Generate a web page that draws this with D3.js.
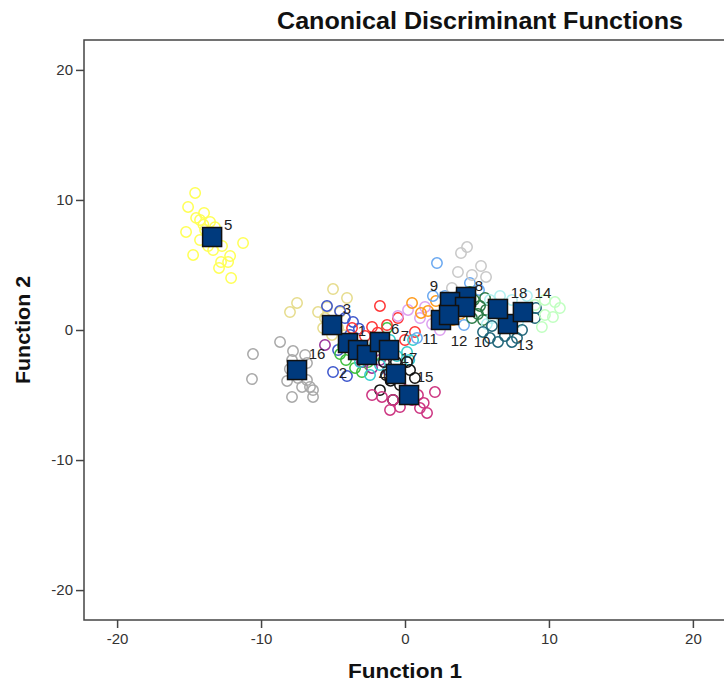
<!DOCTYPE html>
<html>
<head>
<meta charset="utf-8">
<script src="https://cdn.jsdelivr.net/npm/d3@7"></script>
<style>
  html, body { margin: 0; padding: 0; background: #fff; }
  svg { display: block; }
</style>
</head>
<body>
<div id="chart"></div>
<script>
// ---- data ----
const groups = ["1","2","3","4","5","6","7","8","9","10","11","12","13","14","15","16","17","18"];
const groupColors = ["#3cbf3c","#3c55cc","#e6dc8c","#993399","#ffff55","#ff3333","#33cccc","#c8c8c8","#6aa8f0","#2a7a45","#ff9a1a","#dda0f0","#1e6478","#c0ffc0","#cc3380","#a8a8a8","#111111","#b0f0f0"];
const centroidX = [-3.96,-3.26,-5.07,-2.64,-13.4,-1.74,-1.11,4.24,3.13,4.17,2.5,3.06,7.15,8.19,0.28,-7.5,-0.63,6.46];
const centroidY = [-1.0,-1.54,0.38,-1.92,7.15,-0.92,-1.54,2.54,2.15,1.77,0.77,1.15,0.46,1.38,-5.0,-3.08,-3.38,1.62];
const labelX = [-2.99,-4.31,-4.03,-1.53,-12.29,-0.69,0.0,5.14,2.01,5.35,1.74,3.75,8.33,9.58,1.39,-6.11,0.28,7.92];
const labelY = [0.0,-3.23,1.62,-3.46,8.15,0.15,-0.46,3.46,3.46,-0.85,-0.62,-0.77,-1.08,2.85,-3.54,-1.77,-2.08,2.92];

// individual cases: [group, function1, function2]
const cases = [
  // group 5
  [5,-14.58,10.54],[5,-15.07,9.46],[5,-14.51,8.62],[5,-13.96,9.0],[5,-14.24,8.46],[5,-15.21,7.54],[5,-14.24,6.92],[5,-13.89,7.69],[5,-13.54,8.31],[5,-14.72,5.77],[5,-13.33,6.15],[5,-12.78,5.23],[5,-12.29,5.23],[5,-12.15,5.69],[5,-11.25,6.69],[5,-12.08,4.0],[5,-12.92,4.77],[5,-12.71,6.46],[5,-13.68,6.46],[5,-14.0,8.1],[5,-13.2,7.9],
  // group 16
  [16,-10.56,-1.85],[16,-10.63,-3.77],[16,-8.68,-0.92],[16,-7.78,-1.62],[16,-6.94,-1.92],[16,-7.85,-2.31],[16,-7.43,-3.69],[16,-8.19,-3.92],[16,-7.15,-4.38],[16,-6.6,-4.38],[16,-6.39,-4.62],[16,-7.85,-5.15],[16,-6.39,-5.15],[16,-6.81,-3.85],[16,-6.81,-2.54],[16,-8.0,-3.0],
  // group 3
  [3,-7.99,1.38],[3,-7.5,2.08],[3,-5.0,3.15],[3,-4.03,2.46],[3,-5.42,1.77],[3,-5.07,-0.38],[3,-5.56,0.92],[3,-5.69,0.15],[3,-4.51,1.38],[3,-6.04,1.38],[3,-4.65,0.15],[3,-4.2,-0.4],
  // group 2
  [2,-5.42,1.85],[2,-4.51,1.46],[2,-3.61,0.62],[2,-4.17,0.92],[2,-5.0,-3.23],[2,-4.03,-3.54],[2,-4.65,-1.54],[2,-3.82,-0.38],[2,-3.2,0.1],
  // group 1
  [1,-4.51,-1.85],[1,-4.1,-2.31],[1,-3.47,-2.92],[1,-2.99,-3.23],[1,-2.57,-2.46],[1,-3.68,-1.38],[1,-2.08,-1.92],[1,-1.25,0.15],[1,-4.3,-1.2],
  // group 6
  [6,-1.74,1.85],[6,-3.68,0.15],[6,-2.29,0.23],[6,-1.25,0.38],[6,0.69,-0.15],[6,-0.49,0.92],[6,-2.78,-0.46],[6,0.0,-0.77],[6,-1.9,-0.2],
  // group 4
  [4,-5.56,-1.15],[4,-2.99,-2.46],[4,-2.29,-2.92],[4,-1.74,-2.31],[4,-3.33,-1.69],[4,-1.18,-3.08],
  // group 7
  [7,-2.43,-3.46],[7,-1.74,-2.69],[7,-1.04,-0.77],[7,-0.56,-2.0],[7,0.14,-1.69],[7,0.56,-0.77],[7,-3.13,-2.46],[7,-1.39,-1.69],[7,-2.08,-1.15],[7,0.3,-2.3],
  // group 17
  [17,-1.74,-4.62],[17,-1.32,-3.46],[17,-0.63,-2.46],[17,0.14,-2.46],[17,0.69,-3.69],[17,-0.83,-5.38],[17,-0.35,-4.23],[17,0.35,-3.08],[17,-1.46,-2.46],[17,-1.0,-3.9],
  // group 15
  [15,-1.6,-5.15],[15,-0.83,-5.38],[15,-1.04,-6.15],[15,-0.35,-5.92],[15,0.49,-5.38],[15,1.04,-6.0],[15,1.53,-6.38],[15,2.08,-4.77],[15,0.0,-4.62],[15,0.9,-5.0],[15,-2.29,-5.0],[15,1.3,-5.6],
  // group 12
  [12,0.21,1.54],[12,1.04,0.92],[12,1.88,0.46],[12,-0.49,1.08],[12,2.43,0.0],[12,1.39,1.77],
  // group 11
  [11,0.49,2.08],[11,1.11,1.31],[11,1.6,1.46],[11,2.15,2.23],[11,2.78,1.69],[11,3.33,0.77],[11,3.82,1.23],
  // group 9
  [9,2.22,5.15],[9,1.94,2.62],[9,4.51,3.62],[9,5.14,3.08],[9,4.1,0.38],[9,2.78,2.62],[9,0.83,-0.62],
  // group 8
  [8,3.89,5.92],[8,4.31,6.38],[8,3.68,4.46],[8,4.65,4.23],[8,5.63,4.08],[8,5.28,4.92],[8,3.26,3.23],
  // group 10
  [10,4.79,2.31],[10,5.21,1.85],[10,5.07,1.23],[10,5.56,2.46],[10,5.63,1.54],[10,4.65,0.92],[10,5.42,0.77],[10,4.51,2.92],
  // group 18
  [18,5.9,2.31],[18,6.6,2.62],[18,7.43,2.31],[18,6.04,0.92],[18,6.94,0.77],[18,7.85,0.62],[18,5.69,0.46],[18,8.47,2.62],
  // group 13
  [13,5.42,-0.15],[13,5.9,-0.62],[13,6.46,-0.92],[13,6.94,-0.46],[13,7.78,-0.62],[13,8.13,0.0],[13,9.1,1.69],[13,9.03,0.92],[13,7.43,-0.92],[13,6.04,0.31],
  // group 14
  [14,9.72,2.31],[14,10.42,2.15],[14,10.76,1.69],[14,9.72,1.15],[14,10.28,1.0],[14,9.51,0.23],[14,9.03,1.92]
];
const xTicks = [-20,-10,0,10,20];
const yTicks = [-20,-10,0,10,20];
const xDomain = [-22.3, 22.3];
const yDomain = [-22.3, 22.3];

// ---- layout ----
const W = 724, H = 682;
const plot = { left: 84, top: 40, right: 726, bottom: 620 };
const FONT = "'Liberation Sans', Arial, sans-serif";

const svg = d3.select("#chart").append("svg")
  .attr("width", W).attr("height", H)
  .style("font-family", FONT);

const x = d3.scaleLinear().domain(xDomain).range([plot.left, plot.right]);
const y = d3.scaleLinear().domain(yDomain).range([plot.bottom, plot.top]);

// frame
svg.append("rect")
  .attr("x", plot.left).attr("y", plot.top)
  .attr("width", plot.right - plot.left).attr("height", plot.bottom - plot.top)
  .attr("fill", "#fff").attr("stroke", "#444").attr("stroke-width", 1.5);

// axes
const xAxis = svg.append("g").attr("transform", `translate(0,${plot.bottom})`)
  .call(d3.axisBottom(x).tickValues(xTicks).tickSize(8).tickPadding(5).tickFormat(d3.format("d")));
const yAxis = svg.append("g").attr("transform", `translate(${plot.left},0)`)
  .call(d3.axisLeft(y).tickValues(yTicks).tickSize(8).tickPadding(3).tickFormat(d3.format("d")));
[xAxis, yAxis].forEach(a => {
  a.select(".domain").remove();
  a.selectAll(".tick line").attr("stroke", "#444").attr("stroke-width", 1.5);
  a.selectAll(".tick text").attr("fill", "#333").style("font-size", "15px")
    .style("font-family", FONT);
});
xAxis.selectAll(".tick text").text(d => d < 0 ? "-" + Math.abs(d) : d);
yAxis.selectAll(".tick text").text(d => d < 0 ? "-" + Math.abs(d) : d);

// cases
const colorOf = d3.scaleOrdinal().domain(groups).range(groupColors);
svg.append("g").selectAll("circle").data(cases).join("circle")
  .attr("cx", d => x(d[1])).attr("cy", d => y(d[2])).attr("r", 5.2)
  .attr("fill", "none").attr("stroke", d => colorOf(String(d[0])))
  .attr("stroke-width", 1.5);

// centroids
const cents = groups.map((g, i) => ({ g, cx: centroidX[i], cy: centroidY[i], lx: labelX[i], ly: labelY[i] }));
const S = 19;
svg.append("g").selectAll("rect").data(cents).join("rect")
  .attr("x", d => x(d.cx) - S / 2).attr("y", d => y(d.cy) - S / 2)
  .attr("width", S).attr("height", S)
  .attr("fill", "#003a7d").attr("stroke", "#111").attr("stroke-width", 1.5);

svg.append("g").selectAll("text").data(cents).join("text")
  .attr("x", d => x(d.lx)).attr("y", d => y(d.ly))
  .attr("text-anchor", "middle").attr("dominant-baseline", "central")
  .style("font-size", "15px").attr("fill", "#222")
  .text(d => d.g);

// titles
svg.append("text").attr("x", 480).attr("y", 29)
  .attr("text-anchor", "middle").style("font-size", "23px").style("font-weight", "bold")
  .attr("textLength", 406).attr("lengthAdjust", "spacingAndGlyphs")
  .attr("fill", "#111").text("Canonical Discriminant Functions");
svg.append("text").attr("x", 405).attr("y", 678)
  .attr("text-anchor", "middle").style("font-size", "20px").style("font-weight", "bold")
  .attr("textLength", 114).attr("lengthAdjust", "spacingAndGlyphs")
  .attr("fill", "#111").text("Function 1");
svg.append("text").attr("transform", "translate(30,330) rotate(-90)")
  .attr("text-anchor", "middle").style("font-size", "20px").style("font-weight", "bold")
  .attr("textLength", 108).attr("lengthAdjust", "spacingAndGlyphs")
  .attr("fill", "#111").text("Function 2");
</script>
</body>
</html>
